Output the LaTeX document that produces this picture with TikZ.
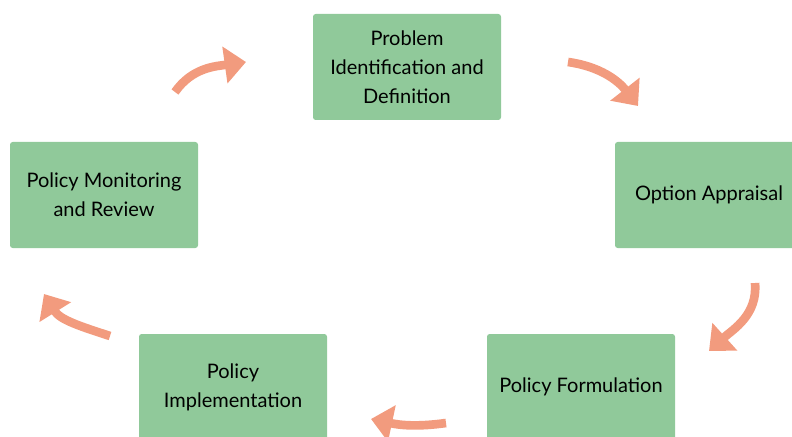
\documentclass[tikz,border=0pt]{standalone}
\usepackage{fontspec}
\setmainfont{Lato}
\usetikzlibrary{arrows.meta}

\definecolor{boxgreen}{RGB}{144,201,154}
\definecolor{arrowred}{RGB}{242,155,126}

\begin{document}
\begin{tikzpicture}[x=0.75pt, y=0.75pt,
    stage/.style={fill=boxgreen, rounded corners=2pt, minimum width=141pt, minimum height=79.5pt, align=center, font=\fontsize{15}{21.75}\selectfont},
    cyc/.style={arrowred, line width=6.5pt, -{Triangle[width=27pt,length=16pt]}}]
        \useasboundingbox (0,0) rectangle (792,436);
        \clip (0,0) rectangle (792,436);

        \node[stage] (prob) at (407,369) {Problem\\Identification and\\Definition};
        \node[stage] (opt) at (709,241) {Option Appraisal};
        \node[stage] (form) at (581,49) {Policy Formulation};
        \node[stage] (impl) at (233,49) {Policy\\Implementation};
        \node[stage] (mon) at (104,241) {Policy Monitoring\\and Review};

        \coordinate (s1) at (175,344); \coordinate (e1) at (246,374);
        \coordinate (s2) at (568,374); \coordinate (e2) at (638,330);
        \coordinate (s3) at (755,153); \coordinate (e3) at (709,85);
        \coordinate (s4) at (446,13); \coordinate (e4) at (371,17);
        \coordinate (s5) at (110,100); \coordinate (e5) at (44,142);

        \draw[cyc] (s1) to[out=55, in=188] (e1);
        \draw[cyc] (s2) to[out=-8, in=128] (e2);
        \draw[cyc] (s3) to[out=-85, in=42] (e3);
        \draw[cyc] (s4) to[out=188, in=-12] (e4);
        \draw[cyc] (s5) to[out=162, in=-58] (e5);
    \end{tikzpicture}
\end{document}
